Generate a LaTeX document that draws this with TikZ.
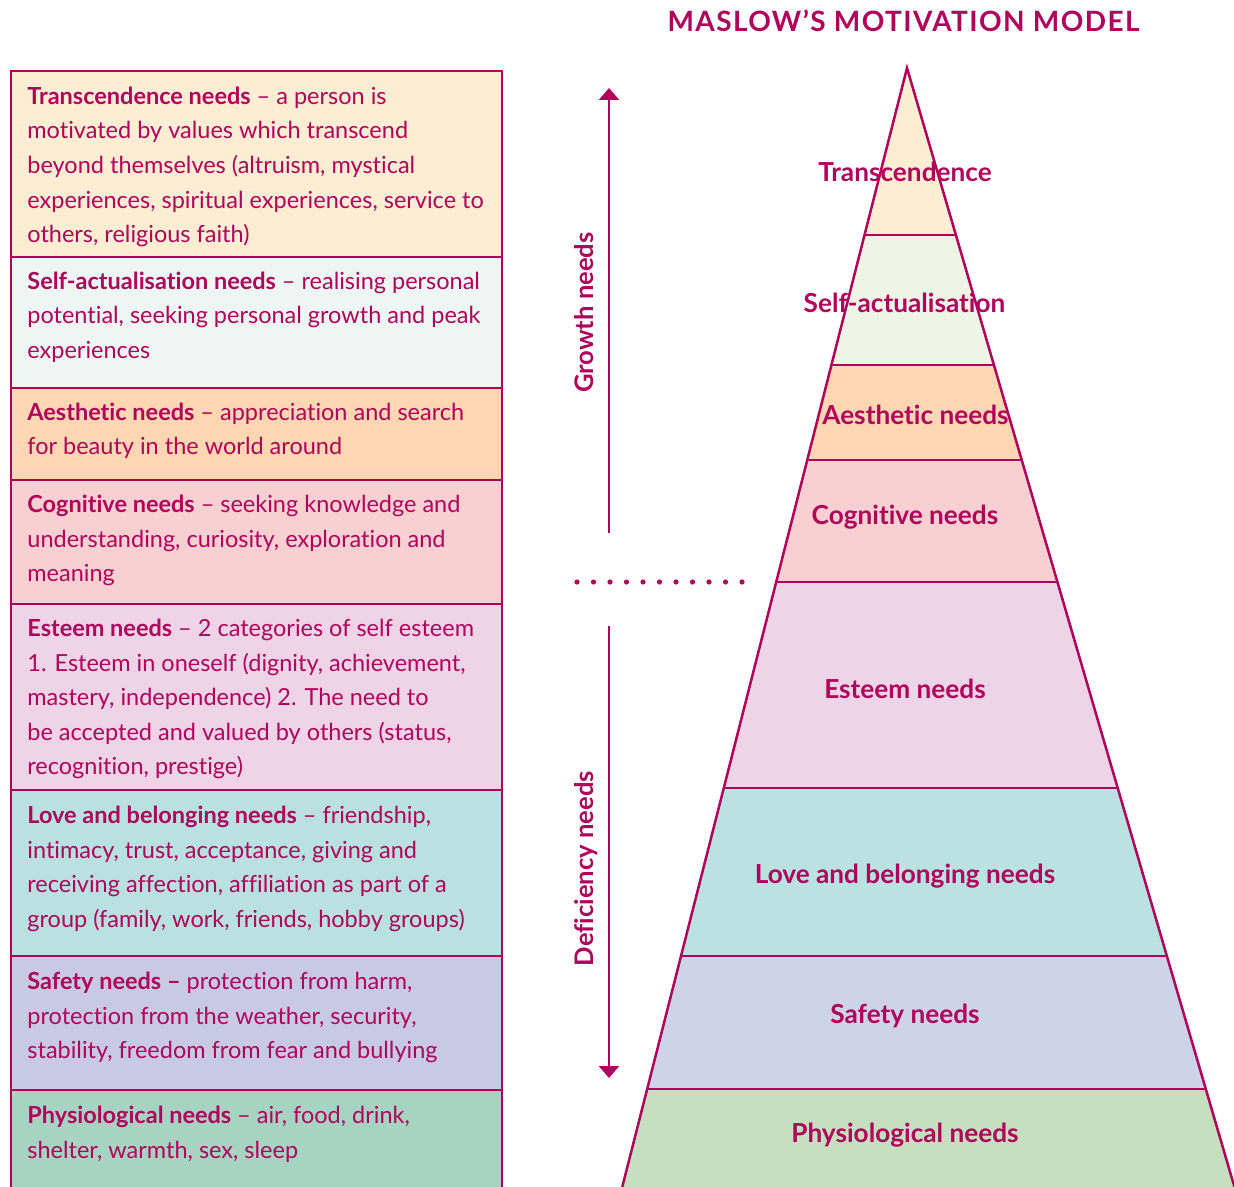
\documentclass[tikz,border=0pt]{standalone}
\usepackage{fontspec}
\setmainfont{Lato}[Ligatures={NoCommon}]
\usetikzlibrary{arrows.meta}

% palette
\definecolor{ink}{RGB}{176,4,92}
\definecolor{cTransL}{HTML}{FCEDD3}
\definecolor{cSelfL}{HTML}{EEF6F3}
\definecolor{cAesL}{HTML}{FDD7B1}
\definecolor{cCogL}{HTML}{F8D0D1}
\definecolor{cEstL}{HTML}{EED4E6}
\definecolor{cLoveL}{HTML}{B8E1DF}
\definecolor{cSafeL}{HTML}{C8CAE4}
\definecolor{cPhysL}{HTML}{A6D3C2}
\definecolor{cTransP}{HTML}{FCEDD3}
\definecolor{cSelfP}{HTML}{EFF5E5}
\definecolor{cAesP}{HTML}{FDD7B1}
\definecolor{cCogP}{HTML}{F8D0D1}
\definecolor{cEstP}{HTML}{EDD4E6}
\definecolor{cLoveP}{HTML}{B9E2E0}
\definecolor{cSafeP}{HTML}{CDD3E8}
\definecolor{cPhysP}{HTML}{C5DFBF}

\begin{document}
\begin{tikzpicture}[x=0.5pt,y=-0.5pt,
  panel/.style={draw=ink,line width=1pt},
  desc/.style={anchor=north west,inner sep=0pt,align=left,text=ink,
    font=\fontsize{11.75}{17.3}\selectfont},
  tier/.style={draw=ink,line width=1.25pt,line join=miter},
  tierlabel/.style={anchor=base,inner sep=0pt,text=ink,
    font=\fontsize{13.1}{15}\selectfont\bfseries},
  sidelabel/.style={anchor=base,rotate=90,inner sep=0pt,text=ink,
    font=\fontsize{12.8}{14}\selectfont\bfseries},
  flow/.style={draw=ink,line width=1.25pt,-{Triangle[width=10pt,length=6pt]}},
  dotmark/.style={circle,fill=ink,inner sep=0pt,minimum size=2.6pt}
]
\useasboundingbox (0,0) rectangle (1234,1186);
\clip (0,0) rectangle (1234,1186);

% ---------- description panels ----------
\fill[cTransL] (11,71)  rectangle (502,257);
\fill[cSelfL]  (11,257) rectangle (502,388);
\fill[cAesL]   (11,388) rectangle (502,480);
\fill[cCogL]   (11,480) rectangle (502,604);
\fill[cEstL]   (11,604) rectangle (502,790);
\fill[cLoveL]  (11,790) rectangle (502,956);
\fill[cSafeL]  (11,956) rectangle (502,1090);
\fill[cPhysL]  (11,1090) rectangle (502,1200);
\draw[panel] (11,1200) -- (11,71) -- (502,71) -- (502,1200);
\foreach \yy in {257,388,480,604,790,956,1090}
  \draw[panel] (11,\yy) -- (502,\yy);

\node[desc] (d1) at (27,82) {\rule{0pt}{11pt}\textbf{Transcendence needs} – a person is\\
motivated by values which transcend\\
beyond themselves (altruism, mystical\\
experiences, spiritual experiences, service to\\
others, religious faith)};
\node[desc] (d2) at (27,267) {\rule{0pt}{11pt}\textbf{Self-actualisation needs} – realising personal\\
potential, seeking personal growth and peak\\
experiences};
\node[desc] (d3) at (27,398) {\rule{0pt}{11pt}\textbf{Aesthetic needs} – appreciation and search\\
for beauty in the world around};
\node[desc] (d4) at (27,490) {\rule{0pt}{11pt}\textbf{Cognitive needs} – seeking knowledge and\\
understanding, curiosity, exploration and\\
meaning};
\node[desc] (d5) at (27,614) {\rule{0pt}{11pt}\textbf{Esteem needs} – 2 categories of self esteem\\
1. Esteem in oneself (dignity, achievement,\\
mastery, independence) 2. The need to\\
be accepted and valued by others (status,\\
recognition, prestige)};
\node[desc] (d6) at (27,801) {\rule{0pt}{11pt}\textbf{Love and belonging needs} – friendship,\\
intimacy, trust, acceptance, giving and\\
receiving affection, affiliation as part of a\\
group (family, work, friends, hobby groups)};
\node[desc] (d7) at (27,967) {\rule{0pt}{11pt}\textbf{Safety needs –} protection from harm,\\
protection from the weather, security,\\
stability, freedom from fear and bullying};
\node[desc] (d8) at (27,1101) {\rule{0pt}{11pt}\textbf{Physiological needs} – air, food, drink,\\
shelter, warmth, sex, sleep};

% ---------- pyramid ----------
\coordinate (apex) at (907,68);
\coordinate (L1) at (864.5,235);  \coordinate (R1) at (955.9,235);
\coordinate (L2) at (831.4,365);  \coordinate (R2) at (993.9,365);
\coordinate (L3) at (807.2,460);  \coordinate (R3) at (1021.7,460);
\coordinate (L4) at (776.2,582);  \coordinate (R4) at (1057.4,582);
\coordinate (L5) at (723.8,788);  \coordinate (R5) at (1117.7,788);
\coordinate (L6) at (681.0,956);  \coordinate (R6) at (1166.9,956);
\coordinate (L7) at (647.2,1089); \coordinate (R7) at (1205.8,1089);
\coordinate (L8) at (617.4,1206); \coordinate (R8) at (1240.0,1206);

\fill[cTransP] (apex) -- (R1) -- (L1) -- cycle;
\fill[cSelfP] (L1) -- (R1) -- (R2) -- (L2) -- cycle;
\fill[cAesP]  (L2) -- (R2) -- (R3) -- (L3) -- cycle;
\fill[cCogP]  (L3) -- (R3) -- (R4) -- (L4) -- cycle;
\fill[cEstP]  (L4) -- (R4) -- (R5) -- (L5) -- cycle;
\fill[cLoveP] (L5) -- (R5) -- (R6) -- (L6) -- cycle;
\fill[cSafeP] (L6) -- (R6) -- (R7) -- (L7) -- cycle;
\fill[cPhysP] (L7) -- (R7) -- (R8) -- (L8) -- cycle;

\draw[tier] (L8) -- (apex) -- (R8);
\foreach \k in {1,...,7}
  \draw[tier] (L\k) -- (R\k);

\node[tierlabel] (p1) at (905,182)   {Transcendence};
\node[tierlabel] (p2) at (904.5,313) {Self-actualisation};
\node[tierlabel] (p3) at (915.5,425) {Aesthetic needs};
\node[tierlabel] (p4) at (905,524)   {Cognitive needs};
\node[tierlabel] (p5) at (905,698)   {Esteem needs};
\node[tierlabel] (p6) at (905,883)   {Love and belonging needs};
\node[tierlabel] (p7) at (905,1023)  {Safety needs};
\node[tierlabel] (p8) at (905,1142)  {Physiological needs};

% ---------- title ----------
\node[anchor=base,inner sep=0pt,text=ink,
  font=\fontsize{14}{16}\selectfont\bfseries\addfontfeatures{LetterSpace=5}]
  (title) at (903.5,32) {MASLOW’S MOTIVATION MODEL};

% ---------- growth / deficiency arrows ----------
\coordinate (gStart) at (609,533);
\coordinate (gEnd)   at (609,88);
\coordinate (dStart) at (609,626);
\coordinate (dEnd)   at (609,1078);
\draw[flow] (gStart) -- (gEnd);
\draw[flow] (dStart) -- (dEnd);
\node[sidelabel] (growth) at (593,312.5) {Growth needs};
\node[sidelabel] (deficiency) at (593,868.5) {Deficiency needs};

% dotted divider
\foreach \i in {0,...,10}
  \node[dotmark] (dot\i) at (577+16.5*\i,582) {};

\end{tikzpicture}
\end{document}
